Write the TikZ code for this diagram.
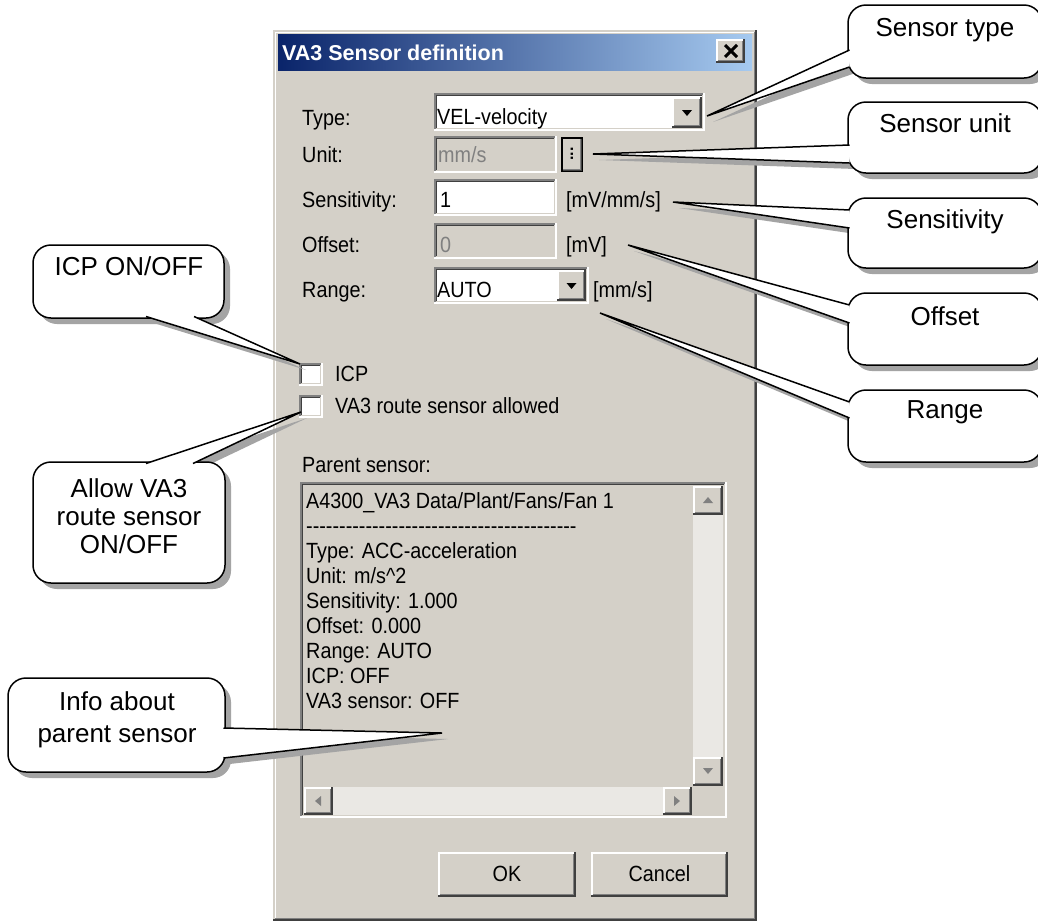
\documentclass[tikz,border=0pt]{standalone}
\usepackage{fontspec}
\setmainfont{Liberation Sans}
\newfontfamily\dlgfont[FakeStretch=0.9]{Liberation Sans}
\definecolor{dlg}{HTML}{D4D0C8}
\definecolor{dkgray}{HTML}{808080}
\definecolor{dkedge}{HTML}{404040}
\definecolor{tbdark}{HTML}{0A246A}
\definecolor{tblight}{HTML}{A6CAF0}
\definecolor{track}{HTML}{EAE8E4}
\definecolor{shadowc}{HTML}{A4A4A4}
\newcommand{\winraised}[4]{%
 \fill[dlg] (#1,#2) rectangle (#3,#4);
 \draw[white,line width=1.7] (#1+0.85,#4-1.7) -- (#1+0.85,#2+0.85) -- (#3-1.7,#2+0.85);
 \draw[dkedge,line width=1.7] (#1,#4-0.85) -- (#3-0.85,#4-0.85) -- (#3-0.85,#2);
 \draw[dkgray,line width=1.7] (#1+1.7,#4-2.55) -- (#3-2.55,#4-2.55) -- (#3-2.55,#2+1.7);
}
\newcommand{\winsunken}[5]{%
 \fill[#5] (#1,#2) rectangle (#3,#4);
 \draw[white,line width=1.7] (#1,#4-0.85) -- (#3-0.85,#4-0.85) -- (#3-0.85,#2);
 \draw[dlg,line width=1.7] (#1+1.7,#4-2.55) -- (#3-2.55,#4-2.55) -- (#3-2.55,#2+1.7);
 \draw[dkgray,line width=1.7] (#1+0.85,#4-1.7) -- (#1+0.85,#2+0.85) -- (#3-1.7,#2+0.85);
 \draw[dkedge,line width=1.7] (#1+2.55,#4-3.4) -- (#1+2.55,#2+2.55) -- (#3-3.4,#2+2.55);
}
\newcommand{\wcallout}[5]{%
 \fill[shadowc,rounded corners=18] ([shift={(6,6)}]#1) rectangle ([shift={(6,6)}]#2);
 \fill[shadowc] ([shift={(6,6)}]#3) -- ([shift={(6,6)}]#5) -- ([shift={(6,6)}]#4) -- cycle;
 \filldraw[fill=white,draw=black,line width=1.5,rounded corners=18] (#1) rectangle (#2);
 \fill[white] (#3) -- (#5) -- (#4) -- cycle;
 \draw[line width=1.5] (#3) -- (#5) -- (#4);
}
\tikzset{
 dlgtxt/.style={font=\dlgfont\fontsize{22}{25}\selectfont, anchor=base west, inner sep=0},
 distxt/.style={dlgtxt, text=dkgray},
 ctext/.style={font=\fontsize{26}{30}\selectfont, anchor=base, inner sep=0},
}
\begin{document}
\begin{tikzpicture}[x=1pt,y=-1pt]
\useasboundingbox (0,0) rectangle (1038,922);
\clip (0,0) rectangle (1038,922);
\fill[white] (0,0) rectangle (1038,922);
% dialog frame
\fill[dlg] (273,30) rectangle (757,921);
\draw[dkedge,line width=1.7] (273,920.15) -- (756.15,920.15) -- (756.15,30);
\draw[dkgray,line width=1.7] (275,918.45) -- (754.45,918.45) -- (754.45,32);
\draw[white,line width=1.7] (275.6,917.6) -- (275.6,32.6) -- (753.6,32.6);
% title bar
\shade[left color=tbdark, right color=tblight] (278,34) rectangle (752,70);
\node[anchor=base west, inner sep=0, text=white, font=\bfseries\fontsize{21.5}{24}\selectfont] (title) at (282,60) {VA3 Sensor definition};
\winraised{716}{39}{745}{63}
\draw[line width=3] (725,45) -- (737,57) (737,45) -- (725,57);
% labels
\node[dlgtxt] (typeL) at (302,125) {Type:};
\node[dlgtxt] (unitL) at (302,162) {Unit:};
\node[dlgtxt] (sensL) at (302,207) {Sensitivity:};
\node[dlgtxt] (offL) at (302,252) {Offset:};
\node[dlgtxt] (rangeL) at (302,297) {Range:};
% type combo
\winsunken{434}{93}{705}{131}{white}
\node[dlgtxt] (typeV) at (437,124) {VEL-velocity};
\winraised{672}{97}{702}{128}
\fill (682,110) -- (692,110) -- (687,116) -- cycle;
% unit
\winsunken{434}{136}{557}{173}{dlg}
\node[distxt] (unitV) at (438,162) {mm/s};
\winraised{561}{137}{583}{172}
\draw[line width=1.5] (561.75,137.75) rectangle (582.25,171.25);
\node[rotate=90, inner sep=0, font=\bfseries\fontsize{16}{16}\selectfont] (unitB) at (572,154) {...};
% sensitivity
\winsunken{434}{179}{557}{216}{white}
\node[dlgtxt] (sensV) at (440,207) {1};
\node[dlgtxt] (sensU) at (566,207) {[mV/mm/s]};
% offset
\winsunken{434}{223}{557}{259}{dlg}
\node[distxt] (offV) at (440,252) {0};
\node[dlgtxt] (offU) at (566,252) {[mV]};
% range
\winsunken{434}{267}{589}{304}{white}
\node[dlgtxt] (rangeV) at (437,297) {AUTO};
\winraised{557}{270}{586}{301}
\fill (566.5,283) -- (576.5,283) -- (571.5,289) -- cycle;
\node[dlgtxt] (rangeU) at (593,297) {[mm/s]};
% checkboxes
\winsunken{299}{363}{323}{386}{white}
\node[dlgtxt] (icpT) at (335,381) {ICP};
\winsunken{299}{395}{323}{418}{white}
\node[dlgtxt] (va3T) at (335,413) {VA3 route sensor allowed};
% parent sensor
\node[dlgtxt] (parL) at (302,472) {Parent sensor:};
\winsunken{300}{482}{727}{818}{dlg}
\node[dlgtxt] (p1) at (306,508) {A4300\_VA3 Data/Plant/Fans/Fan 1};
\node[dlgtxt] (p2) at (306,533) {\foreach \i in {1,...,41}{\mbox{-}}};
\node[dlgtxt] (p3) at (306,558) {Type: ACC-acceleration};
\node[dlgtxt] (p4) at (306,583) {Unit: m/s\textasciicircum 2};
\node[dlgtxt] (p5) at (306,608) {Sensitivity: 1.000};
\node[dlgtxt] (p6) at (306,633) {Offset: 0.000};
\node[dlgtxt] (p7) at (306,658) {Range: AUTO};
\node[dlgtxt] (p8) at (306,683) {ICP: OFF};
\node[dlgtxt] (p9) at (306,708) {VA3 sensor: OFF};
% scrollbars
\fill[track] (693,486) rectangle (723,786);
\winraised{693}{486}{723}{515}
\winraised{693}{757}{723}{786}
\fill[dkgray] (703,503) -- (713,503) -- (708,497) -- cycle;
\fill[dkgray] (703,768) -- (713,768) -- (708,774) -- cycle;
\fill[track] (304,787) rectangle (692,815);
\winraised{304}{787}{333}{815}
\winraised{663}{787}{692}{815}
\fill[dkgray] (321,796) -- (321,806) -- (315,801) -- cycle;
\fill[dkgray] (674,796) -- (674,806) -- (680,801) -- cycle;
\fill[dlg] (693,786) rectangle (723,815);
% buttons
\winraised{438}{852}{576}{897}
\node[dlgtxt, anchor=base] (okB) at (507,881) {OK};
\winraised{591}{852}{728}{897}
\node[dlgtxt, anchor=base] (cancelB) at (659.5,881) {Cancel};
% callouts
\coordinate (tipType) at (707,116);
\coordinate (tipUnit) at (593,154);
\coordinate (tipSens) at (673,202);
\coordinate (tipOff) at (628,245);
\coordinate (tipRange) at (600,313);
\coordinate (tipICP) at (300,364);
\coordinate (tipVA3) at (301,412);
\coordinate (tipInfo) at (442,733);
\wcallout{848,5}{1042,78}{849.5,50}{849.5,67}{tipType}
\wcallout{848,102}{1042,173}{849.5,145}{849.5,163}{tipUnit}
\wcallout{848,198}{1042,268}{849.5,210}{849.5,228}{tipSens}
\wcallout{848,293}{1042,365}{849.5,305}{849.5,323}{tipOff}
\wcallout{848,390}{1042,462}{849.5,402}{849.5,418}{tipRange}
\wcallout{33,245}{224,318}{146,316.5}{194,316.5}{tipICP}
\wcallout{33,462}{225,583}{146,463.5}{193,463.5}{tipVA3}
\wcallout{8,678}{225,772}{223.5,728}{223.5,758}{tipInfo}
\node[ctext] (lType) at (945,36) {Sensor type};
\node[ctext] (lUnit) at (945,132) {Sensor unit};
\node[ctext] (lSens) at (945,228) {Sensitivity};
\node[ctext] (lOff) at (945,325) {Offset};
\node[ctext] (lRange) at (945,418) {Range};
\node[ctext] (lICP) at (129,275) {ICP ON/OFF};
\node[ctext] (lVA3a) at (129,497) {Allow VA3};
\node[ctext] (lVA3b) at (129,525) {route sensor};
\node[ctext] (lVA3c) at (129,553) {ON/OFF};
\node[ctext] (lInfoa) at (117,710) {Info about};
\node[ctext] (lInfob) at (117,742) {parent sensor};
\end{tikzpicture}
\end{document}
